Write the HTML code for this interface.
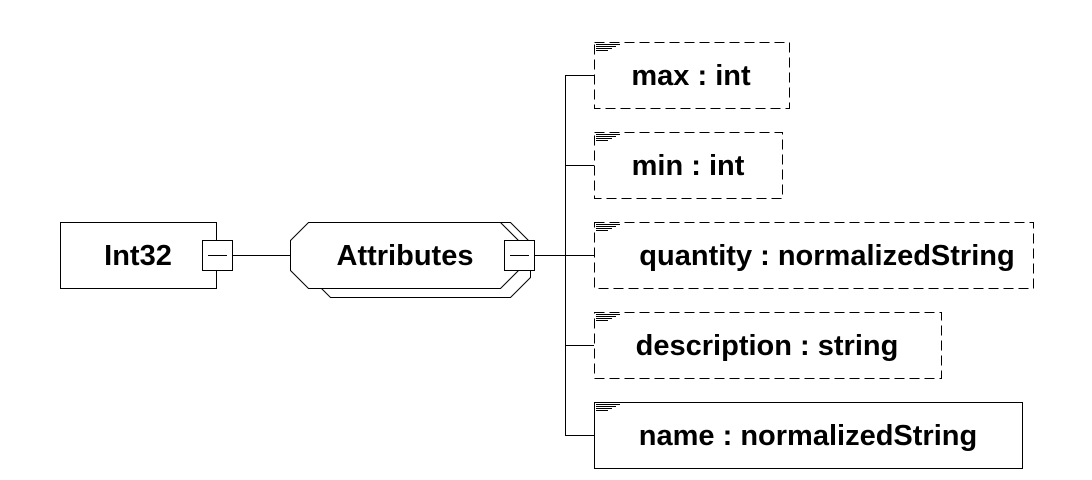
<!DOCTYPE html>
<html><head><style>body{margin:0;background:#fff}svg{display:block}text{font-family:"Liberation Sans",sans-serif;font-weight:bold;font-size:29px;fill:#000}</style></head><body>
<svg width="1092" height="480" xmlns="http://www.w3.org/2000/svg" shape-rendering="crispEdges">
<g fill="none" stroke="#000" stroke-width="1">
<rect x="60.5" y="222.5" width="156" height="66" fill="#fff"/>
<line x1="232" y1="255.5" x2="290" y2="255.5"/>
<polygon points="300.5,232.5 310.5,222.5 510.5,222.5 530.5,242.5 530.5,277.5 510.5,297.5 330.5,297.5 310.5,277.5" fill="#fff" shape-rendering="auto"/>
<polygon points="290.5,240.5 308.5,222.5 500.5,222.5 518.5,240.5 518.5,270.5 500.5,288.5 308.5,288.5 290.5,270.5" fill="#fff" shape-rendering="auto"/>
<rect x="202.5" y="240.5" width="30" height="30" fill="#fff"/>
<line x1="208" y1="255.5" x2="227" y2="255.5"/>
<rect x="504.5" y="240.5" width="30" height="30" fill="#fff"/>
<line x1="510" y1="255.5" x2="529" y2="255.5"/>
<line x1="534" y1="255.5" x2="594" y2="255.5"/>
<line x1="565.5" y1="75" x2="565.5" y2="435"/>
<line x1="565" y1="75.5" x2="594" y2="75.5"/>
<line x1="565" y1="165.5" x2="594" y2="165.5"/>
<line x1="565" y1="345.5" x2="594" y2="345.5"/>
<line x1="565" y1="435.5" x2="594" y2="435.5"/>
<g stroke-dasharray="10,5">
<rect x="594.5" y="42.5" width="195" height="66"/>
<rect x="594.5" y="132.5" width="188" height="66"/>
<rect x="594.5" y="222.5" width="439" height="66"/>
<rect x="594.5" y="312.5" width="347" height="66"/>
</g>
<rect x="594.5" y="402.5" width="428" height="66"/>
</g>
<g stroke="#000" stroke-width="1">
<path d="M596 44.5h24M596 46.5h20M596 48.5h16M596 50.5h12"/>
<path d="M596 134.5h24M596 136.5h20M596 138.5h16M596 140.5h12"/>
<path d="M596 224.5h24M596 226.5h20M596 228.5h16M596 230.5h12"/>
<path d="M596 314.5h24M596 316.5h20M596 318.5h16M596 320.5h12"/>
<path d="M596 404.5h24M596 406.5h20M596 408.5h16M596 410.5h12"/>
</g>
<text x="138" y="265" text-anchor="middle">Int32</text>
<text x="405" y="265" text-anchor="middle">Attributes</text>
<text x="691" y="85" text-anchor="middle">max : int</text>
<text x="688" y="175" text-anchor="middle">min : int</text>
<text x="827" y="265" text-anchor="middle">quantity : normalizedString</text>
<text x="767" y="355" text-anchor="middle">description : string</text>
<text x="808" y="445" text-anchor="middle">name : normalizedString</text>
</svg>
</body></html>
